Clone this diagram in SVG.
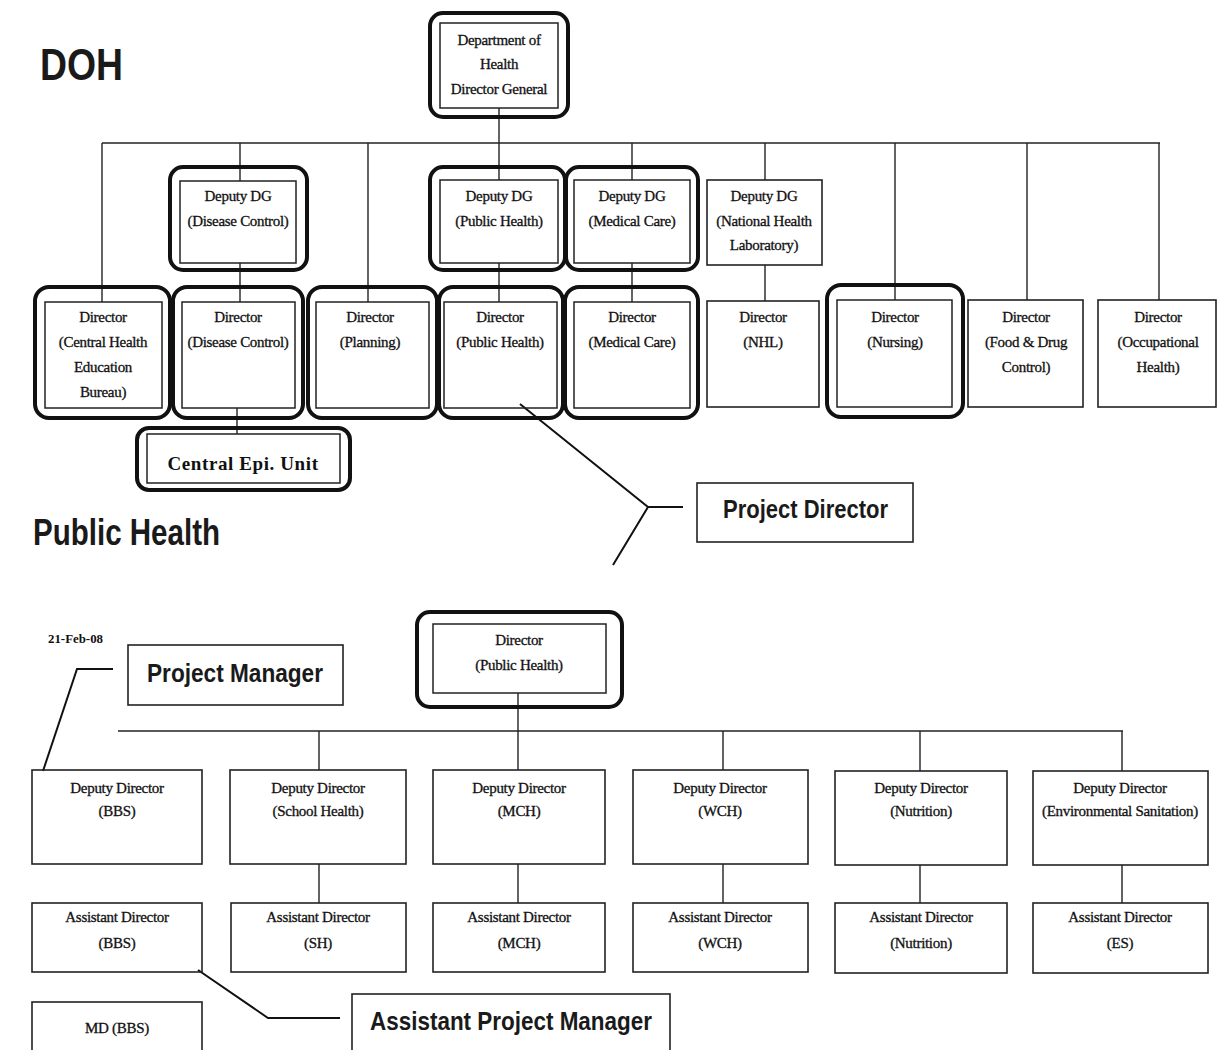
<svg xmlns="http://www.w3.org/2000/svg" width="1219" height="1050" viewBox="0 0 1219 1050">
<style>
.bg{fill:#ffffff}
.thick{fill:none;stroke:#111;stroke-width:4}
.inner{fill:none;stroke:#222;stroke-width:1.5}
.plain{fill:none;stroke:#222;stroke-width:1.6}
.ln{fill:none;stroke:#222;stroke-width:1.4}
.cl{fill:none;stroke:#111;stroke-width:2}
.t{font-family:"Liberation Serif","Times New Roman",serif;font-size:15px;fill:#111;stroke:#111;stroke-width:0.3;text-anchor:middle;letter-spacing:-0.3px}
.h{font-family:"Liberation Sans",Arial,sans-serif;font-weight:bold;fill:#1a1a1a}
.lab{font-family:"Liberation Sans",Arial,sans-serif;font-weight:bold;font-size:25px;fill:#1a1a1a}
</style>
<rect class="bg" x="0" y="0" width="1219" height="1050"/>

<text class="h" x="40" y="80" font-size="45" textLength="83" lengthAdjust="spacingAndGlyphs">DOH</text>
<text class="h" x="33" y="545" font-size="37" textLength="187" lengthAdjust="spacingAndGlyphs">Public Health</text>
<text x="48" y="643" font-family="Liberation Serif,serif" font-weight="bold" font-size="12" fill="#111" textLength="55" lengthAdjust="spacingAndGlyphs">21-Feb-08</text>

<g id="connectors">
  <path class="ln" d="M102,143 H1160"/>
  <path class="ln" d="M499,108 V180"/>
  <path class="ln" d="M499,263 V302"/>
  <path class="ln" d="M102,143 V302"/>
  <path class="ln" d="M240,143 V181"/>
  <path class="ln" d="M240,263 V302"/>
  <path class="ln" d="M368,143 V302"/>
  <path class="ln" d="M632,143 V180"/>
  <path class="ln" d="M632,263 V302"/>
  <path class="ln" d="M765,143 V180"/>
  <path class="ln" d="M765,265 V301"/>
  <path class="ln" d="M895,143 V300"/>
  <path class="ln" d="M1027,143 V300"/>
  <path class="ln" d="M1159,143 V300"/>
  <path class="ln" d="M237,408 V434"/>
  <path class="cl" d="M520,404 L648,507 H683 M648,507 L613,565"/>
  <path class="ln" d="M518,693 V770"/>
  <path class="ln" d="M118,731 H1123"/>
  <path class="ln" d="M319,731 V770 M319,864 V903"/>
  <path class="ln" d="M723,731 V770 M723,864 V903"/>
  <path class="ln" d="M920,731 V771 M920,865 V903"/>
  <path class="ln" d="M1122,731 V771 M1122,865 V903"/>
  <path class="ln" d="M518,864 V903"/>
  <path class="cl" d="M113,669 H77 L43,771"/>
  <path class="cl" d="M198,970 L268,1018 H340"/>
</g>

<g id="dg">
  <rect class="thick" x="430" y="13" width="138" height="104" rx="13"/>
  <rect class="inner" x="440" y="23" width="118" height="85"/>
  <text class="t" x="499" y="45">Department of</text>
  <text class="t" x="499" y="69">Health</text>
  <text class="t" x="499" y="94">Director General</text>
</g>

<g id="ddg-dc">
  <rect class="thick" x="170" y="167" width="137" height="103" rx="13"/>
  <rect class="inner" x="180" y="181" width="116" height="82"/>
  <text class="t" x="238" y="201">Deputy DG</text>
  <text class="t" x="238" y="226">(Disease Control)</text>
</g>
<g id="ddg-ph">
  <rect class="thick" x="430" y="167" width="135" height="103" rx="13"/>
  <rect class="inner" x="440" y="180" width="118" height="83"/>
  <text class="t" x="499" y="201">Deputy DG</text>
  <text class="t" x="499" y="226">(Public Health)</text>
</g>
<g id="ddg-mc">
  <rect class="thick" x="566" y="167" width="132" height="103" rx="13"/>
  <rect class="inner" x="574" y="180" width="116" height="83"/>
  <text class="t" x="632" y="201">Deputy DG</text>
  <text class="t" x="632" y="226">(Medical Care)</text>
</g>
<g id="ddg-nhl">
  <rect class="plain" x="707" y="180" width="115" height="85"/>
  <text class="t" x="764" y="201">Deputy DG</text>
  <text class="t" x="764" y="226">(National Health</text>
  <text class="t" x="764" y="250">Laboratory)</text>
</g>

<g id="d-che">
  <rect class="thick" x="35" y="287" width="135" height="131" rx="14"/>
  <rect class="inner" x="45" y="302" width="117" height="106"/>
  <text class="t" x="103" y="322">Director</text>
  <text class="t" x="103" y="347">(Central Health</text>
  <text class="t" x="103" y="372">Education</text>
  <text class="t" x="103" y="397">Bureau)</text>
</g>
<g id="d-dc">
  <rect class="thick" x="173" y="287" width="130" height="131" rx="14"/>
  <rect class="inner" x="182" y="302" width="113" height="106"/>
  <text class="t" x="238" y="322">Director</text>
  <text class="t" x="238" y="347">(Disease Control)</text>
</g>
<g id="d-pl">
  <rect class="thick" x="308" y="287" width="129" height="131" rx="14"/>
  <rect class="inner" x="316" y="302" width="113" height="106"/>
  <text class="t" x="370" y="322">Director</text>
  <text class="t" x="370" y="347">(Planning)</text>
</g>
<g id="d-ph">
  <rect class="thick" x="439" y="287" width="124" height="131" rx="14"/>
  <rect class="inner" x="444" y="302" width="113" height="106"/>
  <text class="t" x="500" y="322">Director</text>
  <text class="t" x="500" y="347">(Public Health)</text>
</g>
<g id="d-mc">
  <rect class="thick" x="565" y="287" width="133" height="131" rx="14"/>
  <rect class="inner" x="574" y="302" width="116" height="106"/>
  <text class="t" x="632" y="322">Director</text>
  <text class="t" x="632" y="347">(Medical Care)</text>
</g>
<g id="d-nhl">
  <rect class="plain" x="707" y="301" width="112" height="106"/>
  <text class="t" x="763" y="322">Director</text>
  <text class="t" x="763" y="347">(NHL)</text>
</g>
<g id="d-nur">
  <rect class="thick" x="827" y="285" width="136" height="132" rx="14"/>
  <rect class="inner" x="837" y="300" width="115" height="107"/>
  <text class="t" x="895" y="322">Director</text>
  <text class="t" x="895" y="347">(Nursing)</text>
</g>
<g id="d-fdc">
  <rect class="plain" x="968" y="300" width="115" height="107"/>
  <text class="t" x="1026" y="322">Director</text>
  <text class="t" x="1026" y="347">(Food &amp; Drug</text>
  <text class="t" x="1026" y="372">Control)</text>
</g>
<g id="d-occ">
  <rect class="plain" x="1098" y="300" width="118" height="107"/>
  <text class="t" x="1158" y="322">Director</text>
  <text class="t" x="1158" y="347">(Occupational</text>
  <text class="t" x="1158" y="372">Health)</text>
</g>

<g id="epi">
  <rect class="thick" x="137" y="428" width="213" height="62" rx="12"/>
  <rect class="inner" x="147" y="434" width="193" height="49"/>
  <text x="243" y="470" font-family="Liberation Serif,serif" font-weight="bold" font-size="19" fill="#111" text-anchor="middle" letter-spacing="0.6">Central Epi. Unit</text>
</g>

<g id="project-director">
  <rect class="plain" x="697" y="483" width="216" height="59"/>
  <text class="lab" x="723" y="518" textLength="165" lengthAdjust="spacingAndGlyphs">Project Director</text>
</g>

<g id="project-manager">
  <rect class="plain" x="128" y="645" width="215" height="60"/>
  <text class="lab" x="147" y="682" textLength="176" lengthAdjust="spacingAndGlyphs">Project Manager</text>
</g>

<g id="dph">
  <rect class="thick" x="417" y="612" width="205" height="95" rx="13"/>
  <rect class="inner" x="433" y="624" width="173" height="69"/>
  <text class="t" x="519" y="645">Director</text>
  <text class="t" x="519" y="670">(Public Health)</text>
</g>

<g id="dd-bbs"><rect class="plain" x="32" y="770" width="170" height="94"/><text class="t" x="117" y="793">Deputy Director</text><text class="t" x="117" y="816">(BBS)</text></g>
<g id="dd-sh"><rect class="plain" x="230" y="770" width="176" height="94"/><text class="t" x="318" y="793">Deputy Director</text><text class="t" x="318" y="816">(School Health)</text></g>
<g id="dd-mch"><rect class="plain" x="433" y="770" width="172" height="94"/><text class="t" x="519" y="793">Deputy Director</text><text class="t" x="519" y="816">(MCH)</text></g>
<g id="dd-wch"><rect class="plain" x="633" y="770" width="175" height="94"/><text class="t" x="720" y="793">Deputy Director</text><text class="t" x="720" y="816">(WCH)</text></g>
<g id="dd-nut"><rect class="plain" x="835" y="771" width="172" height="94"/><text class="t" x="921" y="793">Deputy Director</text><text class="t" x="921" y="816">(Nutrition)</text></g>
<g id="dd-es"><rect class="plain" x="1033" y="771" width="175" height="94"/><text class="t" x="1120" y="793">Deputy Director</text><text class="t" x="1120" y="816">(Environmental Sanitation)</text></g>

<g id="ad-bbs"><rect class="plain" x="32" y="903" width="170" height="69"/><text class="t" x="117" y="922">Assistant Director</text><text class="t" x="117" y="948">(BBS)</text></g>
<g id="ad-sh"><rect class="plain" x="231" y="903" width="175" height="69"/><text class="t" x="318" y="922">Assistant Director</text><text class="t" x="318" y="948">(SH)</text></g>
<g id="ad-mch"><rect class="plain" x="433" y="903" width="172" height="69"/><text class="t" x="519" y="922">Assistant Director</text><text class="t" x="519" y="948">(MCH)</text></g>
<g id="ad-wch"><rect class="plain" x="633" y="903" width="175" height="69"/><text class="t" x="720" y="922">Assistant Director</text><text class="t" x="720" y="948">(WCH)</text></g>
<g id="ad-nut"><rect class="plain" x="835" y="903" width="172" height="70"/><text class="t" x="921" y="922">Assistant Director</text><text class="t" x="921" y="948">(Nutrition)</text></g>
<g id="ad-es"><rect class="plain" x="1033" y="903" width="175" height="70"/><text class="t" x="1120" y="922">Assistant Director</text><text class="t" x="1120" y="948">(ES)</text></g>

<g id="md-bbs"><rect class="plain" x="32" y="1002" width="170" height="60"/><text class="t" x="117" y="1033">MD (BBS)</text></g>

<g id="apm">
  <rect class="plain" x="352" y="994" width="318" height="70"/>
  <text class="lab" x="370" y="1030" textLength="282" lengthAdjust="spacingAndGlyphs">Assistant Project Manager</text>
</g>
</svg>
